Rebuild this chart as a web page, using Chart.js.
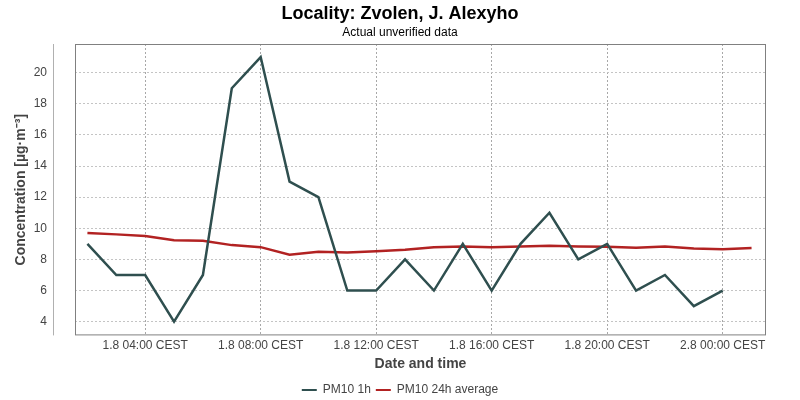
<!DOCTYPE html>
<html>
<head>
<meta charset="utf-8">
<script src="https://cdn.jsdelivr.net/npm/chart.js@4/dist/chart.umd.min.js"></script>
<style>
  html, body { margin: 0; padding: 0; background: #fff; }
  #wrap { width: 800px; height: 400px; }
</style>
</head>
<body>
<div id="wrap"><canvas id="chart"></canvas></div>
<script>
// hours counted from 1.8 00:00 CEST
const pm10Hours = [2, 3, 4, 5, 6, 7, 8, 9, 10, 11, 12, 13, 14, 15, 16, 17, 18, 19, 20, 21, 22, 23, 24];
const pm10Values = [9, 7, 7, 4, 7, 19, 21, 13, 12, 6, 6, 8, 6, 9, 6, 9, 11, 8, 9, 6, 7, 5, 6];

const avgHours = [2, 3, 4, 5, 6, 7, 8, 9, 10, 11, 12, 13, 14, 15, 16, 17, 18, 19, 20, 21, 22, 23, 24, 25];
const avgValues = [9.70, 9.61, 9.51, 9.23, 9.20, 8.92, 8.79, 8.30, 8.49, 8.45, 8.53, 8.62,
  8.79, 8.83, 8.79, 8.83, 8.88, 8.83, 8.81, 8.75, 8.83, 8.70, 8.66, 8.74];

const xTickHours = [4, 8, 12, 16, 20, 24];
const xTickLabels = ["1.8 04:00 CEST", "1.8 08:00 CEST", "1.8 12:00 CEST",
  "1.8 16:00 CEST", "1.8 20:00 CEST", "2.8 00:00 CEST"];

const toPoints = (xs, ys) => xs.map((x, i) => ({ x, y: ys[i] }));

Chart.defaults.font.family = "'Liberation Sans', Arial, sans-serif";
Chart.defaults.color = "#444";

// plot frame plus the detached y axis line
const frame = {
  id: "frame",
  beforeDatasetsDraw(chart) {
    const { ctx, chartArea: a } = chart;
    ctx.save();
    ctx.strokeStyle = "#808080";
    ctx.lineWidth = 1;
    ctx.strokeRect(a.left + 0.5, a.top + 0.5, a.right - a.left - 1, a.bottom - a.top - 1);
    ctx.strokeStyle = "#b0b0b0";
    ctx.beginPath();
    ctx.moveTo(a.left - 21.5, a.top);
    ctx.lineTo(a.left - 21.5, a.bottom);
    ctx.stroke();
    ctx.restore();
  },
};

new Chart(document.getElementById("chart"), {
  type: "line",
  data: {
    datasets: [
      {
        label: "PM10 1h",
        data: toPoints(pm10Hours, pm10Values),
        borderColor: "#2f4f4f",
        backgroundColor: "#2f4f4f",
        borderWidth: 2.5,
        pointRadius: 0,
        tension: 0,
      },
      {
        label: "PM10 24h average",
        data: toPoints(avgHours, avgValues),
        borderColor: "#b22222",
        backgroundColor: "#b22222",
        borderWidth: 2.5,
        pointRadius: 0,
        tension: 0,
      },
    ],
  },
  options: {
    responsive: true,
    maintainAspectRatio: false,
    animation: false,
    layout: { padding: { left: 0, right: 0, top: 0, bottom: -6 } },
    plugins: {
      title: {
        display: true,
        text: "Locality: Zvolen, J. Alexyho",
        color: "#000",
        font: { size: 18, weight: "bold" },
        padding: { top: 3, bottom: 1 },
      },
      subtitle: {
        display: true,
        text: "Actual unverified data",
        color: "#000",
        font: { size: 12 },
        padding: { top: 0, bottom: 4 },
      },
      legend: {
        position: "bottom",
        labels: {
          boxWidth: 15,
          boxHeight: 2,
          padding: 5,
          font: { size: 12 },
          color: "#444",
          generateLabels(chart) {
            return Chart.defaults.plugins.legend.labels.generateLabels(chart)
              .map((item) => ({ ...item, lineWidth: 0 }));
          },
        },
      },
      tooltip: { enabled: false },
    },
    scales: {
      x: {
        type: "linear",
        min: 1.57,
        max: 25.5,
        afterBuildTicks(scale) {
          scale.ticks = xTickHours.map((v) => ({ value: v }));
        },
        afterFit(scale) {
          scale.height = 43.6;
        },
        ticks: {
          padding: 3,
          maxRotation: 0,
          autoSkip: false,
          font: { size: 12 },
          color: "#444",
          callback: (v) => xTickLabels[xTickHours.indexOf(v)],
        },
        grid: { color: "#a8a8a8", drawTicks: false },
        border: { display: false, dash: [2, 2] },
        title: {
          display: true,
          text: "Date and time",
          color: "#444",
          font: { size: 14, weight: "bold" },
          padding: { top: 0, bottom: 6.7 },
        },
      },
      y: {
        min: 3.12,
        max: 21.84,
        afterFit(scale) {
          scale.width = 75;
        },
        ticks: {
          stepSize: 2,
          includeBounds: false,
          padding: 28,
          font: { size: 12 },
          color: "#444",
        },
        grid: { color: "#c4c4c4", drawTicks: false },
        border: { display: false, dash: [2, 2] },
        title: {
          display: true,
          text: "Concentration [µg·m⁻³]",
          color: "#444",
          font: { size: 14, weight: "bold" },
          padding: { top: 13, bottom: 0 },
        },
      },
      // empty right axis, only reserves the margin right of the plot
      yRight: {
        position: "right",
        afterFit(scale) {
          scale.width = 34;
        },
        ticks: { display: false },
        grid: { display: false },
        border: { display: false },
      },
    },
  },
  plugins: [frame],
});
</script>
</body>
</html>
